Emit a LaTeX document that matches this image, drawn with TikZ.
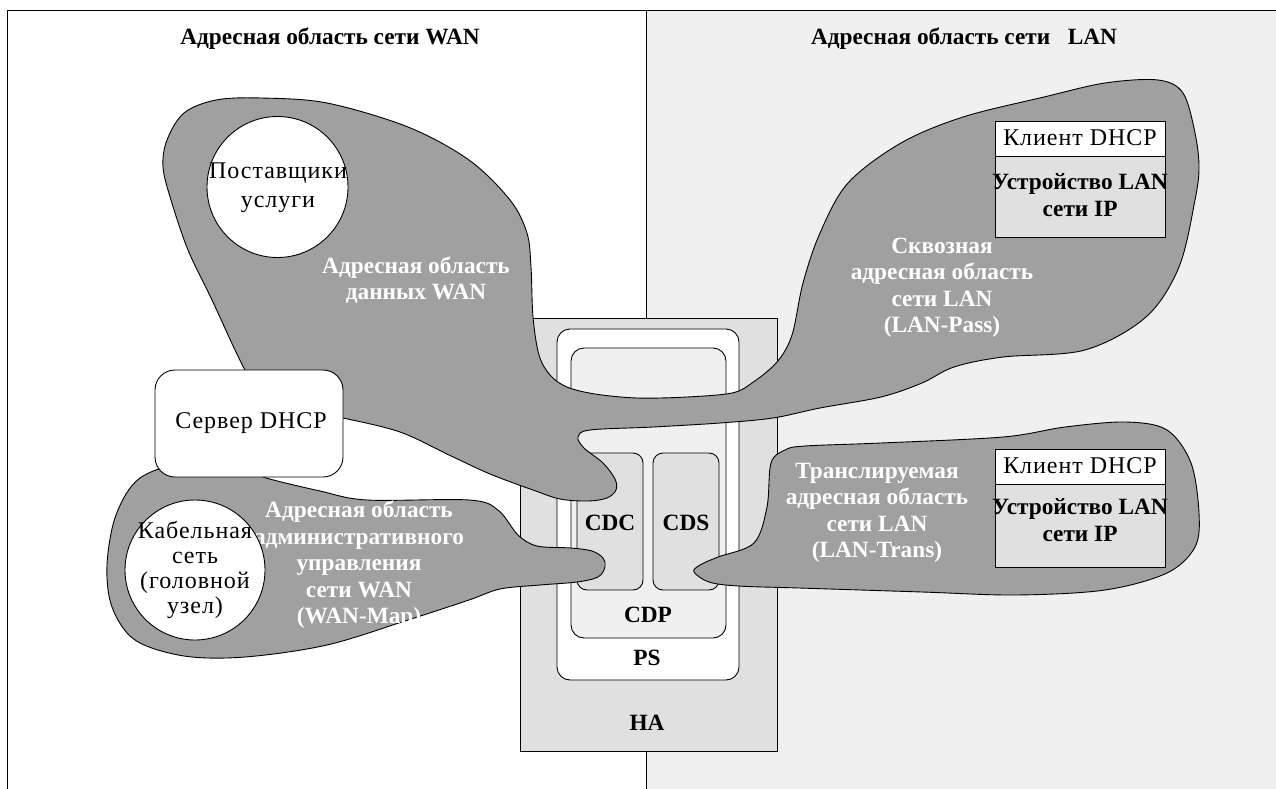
\documentclass[tikz,border=0pt]{standalone}
\usepackage{fontspec}
\setmainfont{Liberation Serif}
\definecolor{blobgray}{RGB}{160,160,160}
\definecolor{panelgray}{RGB}{240,240,240}
\definecolor{boxgray}{RGB}{224,224,224}
\begin{document}
\begin{tikzpicture}[x=1pt,y=-1pt,
  outline/.style={draw=black, line width=0.9pt},
  blob/.style={outline, fill=blobgray},
  box/.style={outline, inner sep=0pt, outer sep=0pt},
  boldtext/.style={font=\fontsize{23.3}{26.5}\selectfont\bfseries, inner sep=0pt, align=center},
  whitetext/.style={boldtext, text=white},
  plaintext/.style={font=\fontsize{24}{25}\selectfont\addfontfeatures{LetterSpace=4}, inner sep=0pt, align=center},
]
\useasboundingbox (0,0) rectangle (1276,789);

% panels: WAN on the left (white), LAN on the right (light grey)
\fill[white] (0,0) rectangle (1276,789);
\fill[panelgray] (646,10) rectangle (1276,789);
\draw[outline] (7,789) -- (7,10) -- (1276,10);
\draw[outline] (646,10) -- (646,789);

% home access device and its nested elements
\node[box, fill=boxgray, minimum width=257pt, minimum height=433pt] (ha) at (648.5,534.5) {};
\node[box, fill=white, rounded corners=13pt, minimum width=182pt, minimum height=351pt] (ps) at (648,504.5) {};
\node[box, fill=panelgray, rounded corners=13pt, minimum width=155pt, minimum height=290pt] (cdp) at (648.5,493) {};
\node[box, fill=boxgray, rounded corners=10pt, minimum width=66pt, minimum height=137pt] (cdc) at (610,521.5) {};
\node[box, fill=boxgray, rounded corners=10pt, minimum width=66pt, minimum height=137pt] (cds) at (686,521.5) {};
\node[boldtext] (cdclabel) at (610,523) {CDC};
\node[boldtext] (cdslabel) at (686,523) {CDS};
\node[boldtext] (cdplabel) at (648,615) {CDP};
\node[boldtext] (pslabel) at (647,658) {PS};
\node[boldtext] (halabel) at (647,723) {HA};

% WAN data realm joined with the LAN pass-through realm
\draw[blob] plot[smooth cycle, tension=0.55] coordinates {
  (245,370) (212,300) (188,250) (171,200) (163,167) (167,140) (184,113)
  (216,100) (261,98) (327,103) (408,127) (469,160) (510,200) (527,233)
  (531,267) (533,317) (539,355) (550,375) (567,387) (595,394) (637,398)
  (687,397) (732,393) (752,383) (777,362) (792,335) (803,283) (820,233)
  (848,183) (901,143) (963,117) (1044,97) (1105,83) (1158,80) (1183,93)
  (1195,133) (1199,167) (1195,200) (1179,267) (1146,317) (1085,350)
  (1003,357) (954,367) (922,383) (881,397) (820,408) (773,418) (720,423) (653,427)
  (590,430) (578,437) (584,448) (603,463) (615,479) (616,490) (607,498)
  (588,501) (560,499) (533,490) (490,474) (449,455) (400,432) (343,418)
  (300,410) (265,395)};

% WAN management realm
\draw[blob] plot[smooth cycle, tension=0.55] coordinates {
  (250,468) (263,477) (320,491) (367,500) (469,500) (498,510) (518,535)
  (537,546) (571,548) (592,551) (603,558) (605,567) (598,577) (577,582)
  (540,585) (500,589) (469,600) (408,620) (327,645) (245,657) (184,656)
  (135,640) (112,607) (107,565) (116,515) (140,478) (190,462)};

% LAN translated realm
\draw[blob] plot[smooth cycle, tension=0.55] coordinates {
  (694,572) (700,565) (718,557) (754,543) (767,507) (771,463) (785,450)
  (805,446) (881,443) (1003,437) (1065,427) (1126,422) (1167,430)
  (1191,463) (1199,513) (1195,547) (1167,573) (1105,590) (1016,595)
  (922,592) (799,588) (738,586) (709,582)};

% realm labels
\node[whitetext] (wandatalabel) at (416,280) {Адресная область\\данных WAN};
\node[whitetext] (wanmaplabel) at (359,565) {Адресная область\\административного\\управления\\сети WAN\\(WAN-Map)};
\node[whitetext] (lanpasslabel) at (942,288) {Сквозная\\адресная область\\сети LAN\\(LAN-Pass)};
\node[whitetext] (lantranslabel) at (877,513) {Транслируемая\\адресная область\\сети LAN\\(LAN-Trans)};

% WAN side hosts
\node[box, circle, fill=white, minimum size=141pt] (provider) at (277.5,187) {};
\node[plaintext, font=\fontsize{24}{29}\selectfont\addfontfeatures{LetterSpace=4}] (providerlabel) at (278,188) {Поставщики\\услуги};
\node[box, circle, fill=white, minimum size=140pt] (headend) at (195,570) {};
\node[plaintext] (headendlabel) at (195,570) {Кабельная\\сеть\\(головной\\узел)};
\node[box, fill=white, rounded corners=20pt, minimum width=188pt, minimum height=107pt] (dhcpserver) at (249,423.5) {};
\node[plaintext] (dhcpserverlabel) at (251,423) {Сервер DHCP};

% LAN side devices
\node[box, fill=white, minimum width=170pt, minimum height=35pt] (client1) at (1080,138.5) {};
\node[box, fill=boxgray, minimum width=170pt, minimum height=81pt, anchor=north] (device1) at (client1.south) {};
\node[plaintext] (client1label) at (1080,138) {Клиент DHCP};
\node[boldtext] (device1label) at (1080,195) {Устройство LAN\\сети IP};

\node[box, fill=white, minimum width=170pt, minimum height=35pt] (client2) at (1080,466.5) {};
\node[box, fill=boxgray, minimum width=170pt, minimum height=83pt, anchor=north] (device2) at (client2.south) {};
\node[plaintext] (client2label) at (1080,466) {Клиент DHCP};
\node[boldtext] (device2label) at (1080,520) {Устройство LAN\\сети IP};

% realm titles
\node[boldtext, anchor=base] (wantitle) at (330,45) {Адресная область сети WAN};
\node[boldtext, anchor=base] (lantitle) at (964,45) {Адресная область сети \ \ LAN};
\end{tikzpicture}
\end{document}
